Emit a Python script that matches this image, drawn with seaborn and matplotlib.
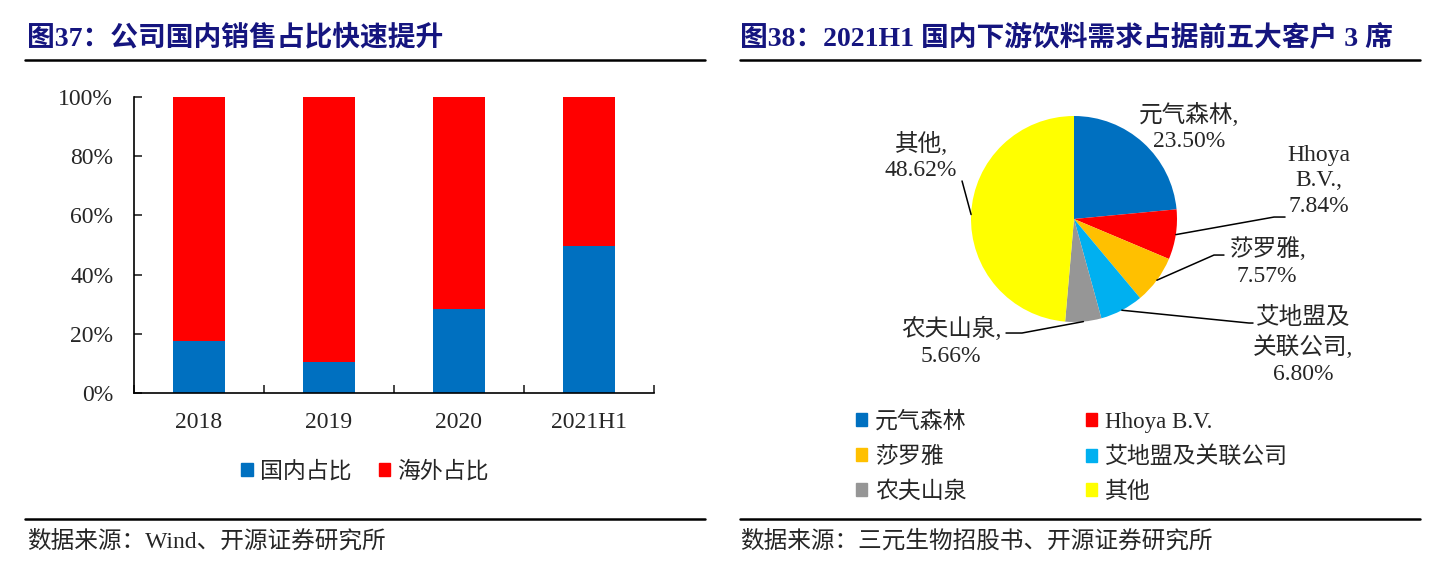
import numpy as np
import pandas as pd
import matplotlib
matplotlib.use('Agg')
import matplotlib.pyplot as plt
import seaborn as sns
from matplotlib.lines import Line2D
from matplotlib.patches import Patch
from matplotlib.ticker import PercentFormatter

# left chart data (share of sales, %)
years = ['2018', '2019', '2020', '2021H1']
domestic = [17.6, 10.5, 28.4, 49.7]
overseas = [82.4, 89.5, 71.6, 50.3]

# right chart data (share of demand, %)
clients = ['元气森林', 'Hhoya B.V.', '莎罗雅', '艾地盟及关联公司', '农夫山泉', '其他']
shares = [23.50, 7.84, 7.57, 6.80, 5.66, 48.62]
pie_labels = ['元气森林,\n23.50%', 'Hhoya\nB.V.,\n7.84%', '莎罗雅,\n7.57%',
              '艾地盟及\n关联公司,\n6.80%', '农夫山泉,\n5.66%', '其他,\n48.62%']
pie_colors = ['#0070C0', '#FF0000', '#FFC000', '#00B0F0', '#969696', '#FFFF00']

sns.set_style('white')
plt.rcParams['font.family'] = ['Liberation Serif', 'Noto Sans CJK SC']

W, H = 1434, 563
fig = plt.figure(figsize=(W / 100, H / 100), dpi=100)
navy = '#15157F'


def fx(px):
    return px / W


def fy(py):
    return 1 - py / H


# titles, rules and sources
fig.text(fx(27), fy(38), '图37：公司国内销售占比快速提升', fontsize=20, fontweight='bold',
         color=navy, va='center', ha='left')
fig.text(fx(740), fy(38), '图38：2021H1 国内下游饮料需求占据前五大客户 3 席', fontsize=20,
         fontweight='bold', color=navy, va='center', ha='left')
for x0, x1 in [(25, 705), (740, 1420)]:
    for yy in [60, 519]:
        fig.add_artist(Line2D([fx(x0), fx(x1)], [fy(yy), fy(yy)], color='black',
                              lw=1.8, transform=fig.transFigure))
fig.text(fx(27), fy(541), '数据来源：Wind、开源证券研究所', fontsize=17, va='center', ha='left')
fig.text(fx(740), fy(541), '数据来源：三元生物招股书、开源证券研究所', fontsize=17, va='center', ha='left')

# stacked bar chart
df = pd.DataFrame({'year': years, 'domestic': domestic, 'overseas': overseas})
df['total'] = df['domestic'] + df['overseas']

ax = fig.add_axes([fx(134), fy(393), fx(654 - 134), (393 - 97) / H])
sns.barplot(data=df, x='year', y='total', color='#FF0000', width=0.4,
            saturation=1, ax=ax)
sns.barplot(data=df, x='year', y='domestic', color='#0070C0', width=0.4,
            saturation=1, ax=ax)
for p in ax.patches:
    p.set_linewidth(0)
ax.set_ylim(0, 100)
ax.set_xlim(-0.5, len(years) - 0.5)
ax.set_yticks(np.arange(0, 101, 20))
ax.yaxis.set_major_formatter(PercentFormatter(100, decimals=0))
ax.set_xlabel('')
ax.set_ylabel('')
for s in ['top', 'right']:
    ax.spines[s].set_visible(False)
for s in ['left', 'bottom']:
    ax.spines[s].set_color('black')
    ax.spines[s].set_linewidth(1.2)
ax.tick_params(axis='y', direction='in', length=6, width=1.2, labelsize=17, pad=15, left=True)
ax.tick_params(axis='x', which='major', length=0, labelsize=17, pad=14)
ax.set_xticks(np.arange(-0.5, len(years), 1), minor=True)
ax.tick_params(axis='x', which='minor', direction='in', length=6, width=1.2, bottom=True)

fig.legend(handles=[Patch(color='#0070C0', label='国内占比'),
                    Patch(color='#FF0000', label='海外占比')],
           loc='center', bbox_to_anchor=(fx(365), fy(472)), ncol=2, frameon=False,
           fontsize=16.5, handlelength=0.5, handleheight=0.5, handletextpad=0.3,
           columnspacing=1.2)

# pie chart: 1 data unit = 103 px, centre at (1074, 219)
cx, cy, r = 1074, 219, 103
pax = fig.add_axes([fx(860), fy(400), fx(560), 310 / H])
wedges, _ = pax.pie(shares, colors=pie_colors, startangle=90, counterclock=False,
                    wedgeprops=dict(linewidth=0))
pax.set_xlim((860 - cx) / r, (1420 - cx) / r)
pax.set_ylim((cy - 400) / r, (cy - 90) / r)
pax.set_aspect('auto')
pax.axis('off')

# label centres and leader-line bends, in pie units
label_pos = [(1.117, 0.888), (2.379, 0.369), (1.874, -0.417),
             (2.223, -1.233), (-1.194, -1.194), (-1.485, 0.607)]
leaders = [None,
           [(1.942, 0.019), (2.049, 0.019)],
           [(1.359, -0.350), (1.456, -0.350)],
           [(1.699, -1.010), (1.738, -1.010)],
           [(-0.505, -1.107), (-0.660, -1.107)],
           [(-1.087, 0.369)]]
for w, lab, pos, lead in zip(wedges, pie_labels, label_pos, leaders):
    pax.text(pos[0], pos[1], lab, ha='center', va='center', fontsize=17, linespacing=1.3)
    if lead:
        ang = np.deg2rad((w.theta1 + w.theta2) / 2)
        pts = [(np.cos(ang), np.sin(ang))] + lead
        xs, ys = zip(*pts)
        pax.plot(xs, ys, color='black', lw=1.1)

order = [0, 2, 4, 1, 3, 5]
fig.legend(handles=[Patch(color=pie_colors[i], label=clients[i]) for i in order],
           loc='upper left', bbox_to_anchor=(fx(835), fy(391)), ncol=2, frameon=False,
           fontsize=16.5, handlelength=0.5, handleheight=0.5, handletextpad=0.35,
           columnspacing=5.2, labelspacing=0.58)

fig.savefig('out.png', dpi=100)
